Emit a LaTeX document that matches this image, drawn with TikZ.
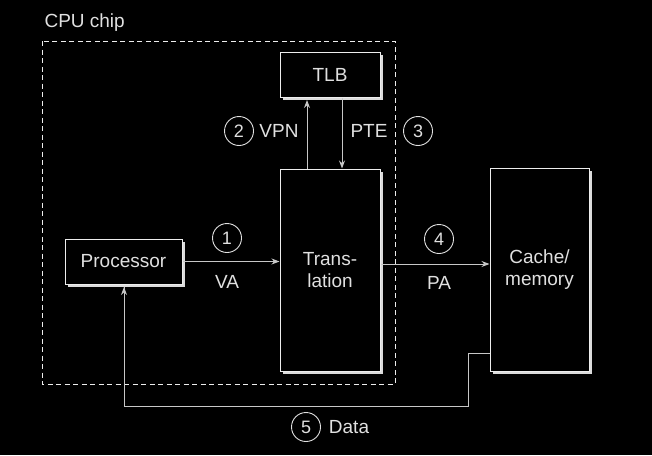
\documentclass[tikz,border=0pt]{standalone}
\usepackage{fontspec}
\setmainfont{Liberation Sans}
\usetikzlibrary{shadows,arrows.meta}
\definecolor{linec}{gray}{0.78}
\definecolor{boxc}{gray}{0.93}
\definecolor{shadc}{gray}{0.86}
\definecolor{txtc}{gray}{0.88}
\begin{document}
\begin{tikzpicture}[x=1pt,y=-1pt,
  every node/.style={text=txtc,font=\fontsize{19}{22}\selectfont},
  box/.style={draw=boxc,fill=black,line width=1pt,inner sep=0pt,align=center,
    drop shadow={shadow xshift=2.5pt,shadow yshift=-2.5pt,fill=shadc,opacity=1}},
  num/.style={circle,draw=txtc,line width=0.9pt,minimum size=29pt,inner sep=0pt,font=\fontsize{18}{20}\selectfont},
  arr/.style={draw=linec,line width=1pt,-{Stealth[length=8pt,width=6pt]}},
  conn/.style={draw=linec,line width=1pt},
  chip/.style={draw=boxc,line width=1pt,dash pattern=on 5pt off 3.5pt}]
\fill[black] (0,0) rectangle (652,455);
\useasboundingbox (0,0) rectangle (652,455);
% CPU chip boundary
\draw[chip] (42,41) rectangle (395,384);
\node[anchor=base west] (chiplbl) at (41,27) {CPU chip};
% boxes
\node[box,minimum width=117pt,minimum height=45pt] (proc) at (123.5,261.5) {Processor};
\node[box,minimum width=100pt,minimum height=45pt] (tlb) at (330,74.5) {TLB};
\node[box,minimum width=100pt,minimum height=202pt] (trans) at (330,270) {Trans-\\lation};
\node[box,minimum width=99pt,minimum height=203pt] (cache) at (539.5,269.5) {Cache/\\memory};
% helper coordinates
\coordinate (vpnx) at (307,0);
\coordinate (ptex) at (342,0);
\coordinate (pay) at (0,264);
\coordinate (datay) at (0,353);
\coordinate (d1) at (468,353);
\coordinate (d2) at (468,406);
\coordinate (d3) at (124,406);
% connectors
\draw[arr] (proc.east) -- (trans.west |- proc.east);
\draw[arr] (trans.north -| vpnx) -- ([yshift=-2.5pt]tlb.south -| vpnx);
\draw[arr] (tlb.south -| ptex) -- (trans.north -| ptex);
\draw[arr] (trans.east |- pay) -- (cache.west |- pay);
\draw[conn] (cache.west |- datay) -- (d1) -- (d2) -- (d3)
  -- ([yshift=-2.5pt]proc.south -| d3);
\draw[arr] (d2) -- (d3) -- ([yshift=-2.5pt]proc.south -| d3);
% labels
\node[num] (n1) at (227,238) {1};
\node (va) at (227,282) {VA};
\node[num] (n2) at (239,131) {2};
\node (vpn) at (279,131) {VPN};
\node (pte) at (369,131) {PTE};
\node[num] (n3) at (418,131) {3};
\node[num] (n4) at (439,239) {4};
\node (pa) at (439,283) {PA};
\node[num] (n5) at (306,427) {5};
\node (data) at (349,427) {Data};
\end{tikzpicture}
\end{document}
